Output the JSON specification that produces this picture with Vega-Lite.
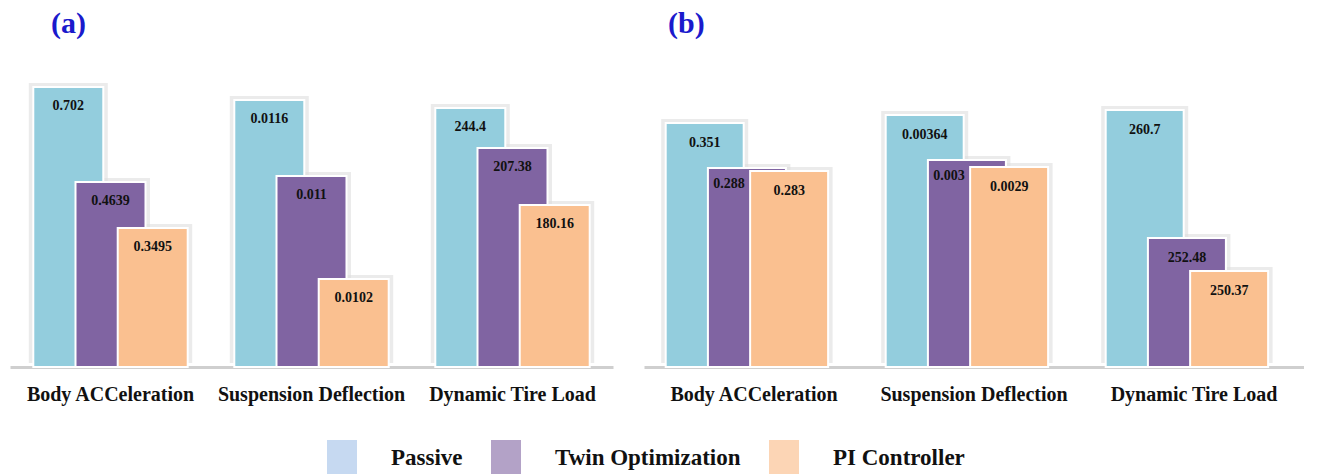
{
  "$schema": "https://vega.github.io/schema/vega-lite/v6.json",
  "padding": {"left": 10, "top": 9, "right": 0, "bottom": 0},
  "background": "white",
  "datasets": {
    "bars": [
      {"panel": "a", "metric": "Body ACCeleration", "series": "Passive", "value": 0.702, "level": 280},
      {"panel": "a", "metric": "Body ACCeleration", "series": "Twin Optimization", "value": 0.4639, "level": 185},
      {"panel": "a", "metric": "Body ACCeleration", "series": "PI Controller", "value": 0.3495, "level": 139},
      {"panel": "a", "metric": "Suspension Deflection", "series": "Passive", "value": 0.0116, "level": 267},
      {"panel": "a", "metric": "Suspension Deflection", "series": "Twin Optimization", "value": 0.011, "level": 191},
      {"panel": "a", "metric": "Suspension Deflection", "series": "PI Controller", "value": 0.0102, "level": 88},
      {"panel": "a", "metric": "Dynamic Tire Load", "series": "Passive", "value": 244.4, "level": 259},
      {"panel": "a", "metric": "Dynamic Tire Load", "series": "Twin Optimization", "value": 207.38, "level": 219},
      {"panel": "a", "metric": "Dynamic Tire Load", "series": "PI Controller", "value": 180.16, "level": 162},
      {"panel": "b", "metric": "Body ACCeleration", "series": "Passive", "value": 0.351, "level": 244},
      {"panel": "b", "metric": "Body ACCeleration", "series": "Twin Optimization", "value": 0.288, "level": 199},
      {"panel": "b", "metric": "Body ACCeleration", "series": "PI Controller", "value": 0.283, "level": 196},
      {"panel": "b", "metric": "Suspension Deflection", "series": "Passive", "value": 0.00364, "level": 252},
      {"panel": "b", "metric": "Suspension Deflection", "series": "Twin Optimization", "value": 0.003, "level": 207},
      {"panel": "b", "metric": "Suspension Deflection", "series": "PI Controller", "value": 0.0029, "level": 200},
      {"panel": "b", "metric": "Dynamic Tire Load", "series": "Passive", "value": 260.7, "level": 257},
      {"panel": "b", "metric": "Dynamic Tire Load", "series": "Twin Optimization", "value": 252.48, "level": 129},
      {"panel": "b", "metric": "Dynamic Tire Load", "series": "PI Controller", "value": 250.37, "level": 96}
    ]
  },
  "data": {"name": "bars"},
  "spacing": 31,
  "hconcat": [
    {
      "width": 603,
      "height": 300,
      "title": {"text": "(a)", "anchor": "start", "dx": 41, "offset": 28},
      "transform": [{"filter": "datum.panel == 'a'"}],
      "encoding": {
        "x": {"field": "metric", "type": "nominal", "sort": ["Body ACCeleration", "Suspension Deflection", "Dynamic Tire Load"],
              "scale": {"paddingInner": 0.37, "paddingOuter": 0.185},
              "axis": {"title": null, "labelAngle": 0, "ticks": false, "labelPadding": 17, "domainColor": "#cfcfcf", "domainWidth": 3, "labelLimit": 400,
                       "labelFont": "Liberation Serif", "labelFontSize": 20, "labelFontWeight": "bold", "labelColor": "#111111"}},
        "xOffset": {"field": "series", "type": "nominal", "sort": ["Passive", "Twin Optimization", "PI Controller"]},
        "y": {"field": "level", "type": "quantitative", "scale": {"domain": [0, 300]}, "axis": null}
      },
      "layer": [
        {"mark": {"type": "bar", "width": 10, "opacity": 0},
         "encoding": {"fill": {"field": "series", "type": "nominal",
            "scale": {"domain": ["Passive", "Twin Optimization", "PI Controller"], "range": ["#c6d9f1", "#b3a2c7", "#fcd5b5"]},
            "legend": {"orient": "none", "legendX": 317, "legendY": 376, "direction": "horizontal", "title": null,
                       "symbolType": "M-1,-1.22H1V1.22H-1Z", "symbolSize": 900, "symbolStrokeWidth": 0, "symbolOpacity": 1, "symbolFillOpacity": 1,
                       "labelFont": "Liberation Serif", "labelFontWeight": "bold", "labelFontSize": 23, "labelColor": "#111111",
                       "labelOffset": 34, "columnPadding": 28, "labelLimit": 400}}}},
        {"mark": {"type": "bar", "width": 79, "fill": "#dedede", "opacity": 0.6, "yOffset": -4}},
        {"mark": {"type": "bar", "width": 70, "stroke": "white", "strokeWidth": 2},
         "encoding": {"color": {"field": "series", "type": "nominal",
            "scale": {"domain": ["Passive", "Twin Optimization", "PI Controller"], "range": ["#93cddd", "#8064a2", "#fac090"]},
            "legend": null}}},
        {"mark": {"type": "text", "baseline": "middle", "dy": 19, "font": "Liberation Serif", "fontWeight": "bold", "fontSize": 14, "color": "#111111"},
         "encoding": {"text": {"field": "value", "type": "nominal"}}}
      ]
    },
    {
      "width": 660,
      "height": 300,
      "title": {"text": "(b)", "anchor": "start", "dx": 24, "offset": 28},
      "transform": [{"filter": "datum.panel == 'b'"}],
      "encoding": {
        "x": {"field": "metric", "type": "nominal", "sort": ["Body ACCeleration", "Suspension Deflection", "Dynamic Tire Load"],
              "scale": {"paddingInner": 0.36, "paddingOuter": 0.18},
              "axis": {"title": null, "labelAngle": 0, "ticks": false, "labelPadding": 17, "domainColor": "#cfcfcf", "domainWidth": 3, "labelLimit": 400,
                       "labelFont": "Liberation Serif", "labelFontSize": 20, "labelFontWeight": "bold", "labelColor": "#111111"}},
        "xOffset": {"field": "series", "type": "nominal", "sort": ["Passive", "Twin Optimization", "PI Controller"]},
        "y": {"field": "level", "type": "quantitative", "scale": {"domain": [0, 300]}, "axis": null}
      },
      "layer": [
        {"mark": {"type": "bar", "width": 87, "fill": "#dedede", "opacity": 0.6, "yOffset": -4}},
        {"mark": {"type": "bar", "width": 78, "stroke": "white", "strokeWidth": 2},
         "encoding": {"color": {"field": "series", "type": "nominal",
            "scale": {"domain": ["Passive", "Twin Optimization", "PI Controller"], "range": ["#93cddd", "#8064a2", "#fac090"]},
            "legend": null}}},
        {"transform": [{"filter": "!(datum.series == 'Twin Optimization' && datum.metric != 'Dynamic Tire Load')"}],
         "mark": {"type": "text", "baseline": "middle", "dy": 20, "font": "Liberation Serif", "fontWeight": "bold", "fontSize": 14, "color": "#111111"},
         "encoding": {"text": {"field": "value", "type": "nominal"}}},
        {"transform": [{"filter": "datum.series == 'Twin Optimization' && datum.metric != 'Dynamic Tire Load'"}],
         "mark": {"type": "text", "baseline": "middle", "dy": 16, "dx": -18, "font": "Liberation Serif", "fontWeight": "bold", "fontSize": 14, "color": "#111111"},
         "encoding": {"text": {"field": "value", "type": "nominal"}}}
      ]
    }
  ],
  "config": {
    "view": {"stroke": null},
    "title": {"font": "Liberation Serif", "fontSize": 30, "fontWeight": "bold", "color": "#1a1acc"},
    "axis": {"labelFont": "Liberation Serif", "labelFontSize": 20, "labelFontWeight": "bold", "labelColor": "#111111", "grid": false}
  }
}
